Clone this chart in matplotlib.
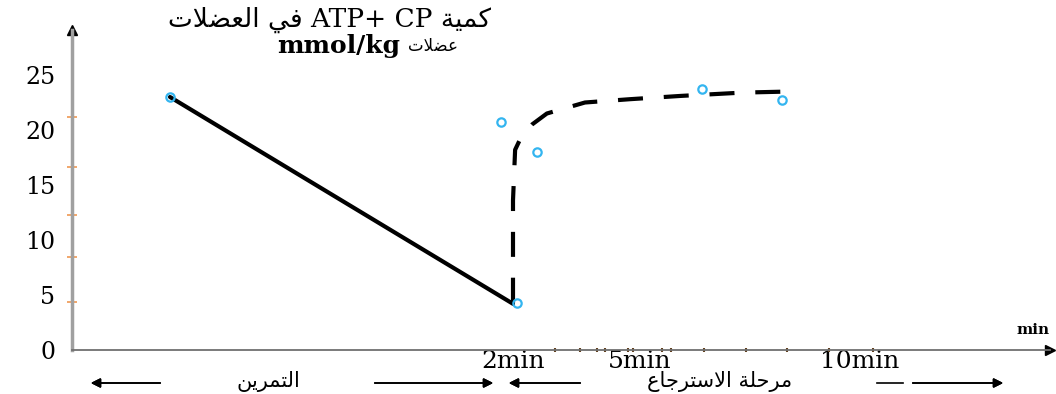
import matplotlib
matplotlib.use("Agg")
import matplotlib.pyplot as plt
import numpy as np

# --- data (time in minutes, ATP+CP in mmol/kg) ---
exercise_time = [0.0, 2.0]
exercise_value = [23.0, 4.2]

recovery_time = [2.0, 2.0, 2.05, 2.21, 2.45, 2.8, 3.7, 4.76, 5.93, 7.33, 8.42]
recovery_value = [4.3, 13.6, 18.2, 19.5, 20.5, 21.5, 22.5, 22.8, 23.1, 23.4, 23.5]

marker_time = [0.0, 1.93, 2.57, 2.1, 6.42, 8.23]
marker_value = [23.0, 20.7, 18.0, 4.3, 23.7, 22.7]

y_ticks = [0, 5, 10, 15, 20, 25]
x_ticks = [2, 5, 10]
x_tick_labels = ["2min", "5min", "10min"]

# small stray tick marks on both axes
x_minor = [2.99, 3.58, 3.98, 4.17, 4.72, 4.83, 5.5, 5.7, 6.45, 7.4, 8.35, 9.3, 10.3]
y_minor = [21.2, 16.6, 12.3, 8.5, 4.4]

# the time axis of the drawing is not linear: piecewise mapping time -> position
scale_time = [-0.57, 0.0, 2.0, 5.0, 10.0, 14.5]
scale_pos = [72, 170, 513, 640, 860, 1050]


def forward(t):
    return np.interp(t, scale_time, scale_pos)


def inverse(p):
    return np.interp(p, scale_pos, scale_time)


# --- minimal Arabic shaping (matplotlib has no complex text layout) ---
FORMS = {
    "ا": ("\uFE8D", "\uFE8E", None, None),
    "لا": ("\uFEFB", "\uFEFC", None, None),
    "ة": ("\uFE93", "\uFE94", None, None),
    "ر": ("\uFEAD", "\uFEAE", None, None),
    "ل": ("\uFEDD", "\uFEDE", "\uFEDF", "\uFEE0"),
    "ع": ("\uFEC9", "\uFECA", "\uFECB", "\uFECC"),
    "ض": ("\uFEBD", "\uFEBE", "\uFEBF", "\uFEC0"),
    "ت": ("\uFE95", "\uFE96", "\uFE97", "\uFE98"),
    "ك": ("\uFED9", "\uFEDA", "\uFEDB", "\uFEDC"),
    "م": ("\uFEE1", "\uFEE2", "\uFEE3", "\uFEE4"),
    "ي": ("\uFEF1", "\uFEF2", "\uFEF3", "\uFEF4"),
    "ف": ("\uFED1", "\uFED2", "\uFED3", "\uFED4"),
    "ن": ("\uFEE5", "\uFEE6", "\uFEE7", "\uFEE8"),
    "ح": ("\uFEA1", "\uFEA2", "\uFEA3", "\uFEA4"),
    "س": ("\uFEB1", "\uFEB2", "\uFEB3", "\uFEB4"),
    "ج": ("\uFE9D", "\uFE9E", "\uFE9F", "\uFEA0"),
}


def ar(word):
    tokens, i = [], 0
    while i < len(word):
        if word[i] == "ل" and i + 1 < len(word) and word[i + 1] == "ا":
            tokens.append("لا")
            i += 2
        else:
            tokens.append(word[i])
            i += 1
    out = []
    for k, tok in enumerate(tokens):
        iso, fin, ini, med = FORMS[tok]
        prev_joins = k > 0 and FORMS[tokens[k - 1]][2] is not None
        next_joins = ini is not None and k + 1 < len(tokens)
        if prev_joins and next_joins:
            out.append(med)
        elif prev_joins:
            out.append(fin)
        elif next_joins:
            out.append(ini)
        else:
            out.append(iso)
    return "".join(reversed(out))


SERIF = ["DejaVu Serif", "DejaVu Sans"]
ARAB = ["DejaVu Sans"]

W, H = 1056, 394
fig = plt.figure(figsize=(W / 100, H / 100), dpi=100)
ax = fig.add_axes([72 / W, 44 / H, (1050 - 72) / W, 320 / H])
ax.set_xscale("function", functions=(forward, inverse))
ax.set_xlim(-0.57, 14.5)
ax.set_ylim(0, 320 / 11)

ax.plot(exercise_time, exercise_value, color="black", lw=3, solid_capstyle="round")
ax.plot(recovery_time, recovery_value, color="black", lw=3, dashes=(6, 5))
ax.plot(marker_time, marker_value, ls="none", marker="o", ms=6, mfc="none",
        mec="#33b5f0", mew=1.6, clip_on=False)

for s in ["top", "right"]:
    ax.spines[s].set_visible(False)
ax.spines["left"].set_color("#a0a0a0")
ax.spines["left"].set_linewidth(2.5)
ax.spines["bottom"].set_color("#707070")
ax.spines["bottom"].set_linewidth(1.3)
ax.plot([0], [1], marker="^", color="black", ms=7, transform=ax.transAxes, clip_on=False)
ax.plot([1], [0], marker=">", color="black", ms=7, transform=ax.transAxes, clip_on=False)

ax.set_yticks(y_ticks)
ax.set_yticklabels([str(v) for v in y_ticks], family=SERIF, fontsize=17)
ax.set_xticks(x_ticks)
ax.set_xticklabels(x_tick_labels, family=SERIF, fontsize=18)
ax.tick_params(axis="y", which="major", length=0, pad=12)
ax.tick_params(axis="x", which="major", length=0, pad=0)
ax.set_yticks(y_minor, minor=True)
ax.set_xticks(x_minor, minor=True)
ax.tick_params(axis="y", which="minor", length=7, width=1.3, direction="inout",
               color="#f0a060")
ax.tick_params(axis="x", which="minor", length=3, width=1.5, direction="inout",
               color="#604020")

# titles
fig.text(330 / W, 1 - 20 / H, ar("العضلات") + " " + ar("في") + " ATP+ CP " + ar("كمية"),
         family=SERIF, fontsize=19, ha="center", va="center")
fig.text(400 / W, 1 - 46 / H, "mmol/kg", family=SERIF, fontsize=18, fontweight="bold",
         ha="right", va="center")
fig.text(408 / W, 1 - 46 / H, ar("عضلات"), family=ARAB, fontsize=12, ha="left", va="center")
fig.text(1050 / W, 1 - 330 / H, "min", family=SERIF, fontsize=11, fontweight="bold",
         ha="right", va="center")

# phase labels with arrows
fig.text(268 / W, 1.5 / H, ar("التمرين"), family=ARAB, fontsize=15, ha="center",
         va="bottom")
fig.text(720 / W, 1.5 / H, ar("الاسترجاع") + " " + ar("مرحلة"), family=ARAB,
         fontsize=15, ha="center", va="bottom")
arrow = dict(arrowstyle="-|>", color="black", lw=1.2, mutation_scale=14)
for x0, x1 in [(163, 88), (372, 496), (583, 506), (910, 1006)]:
    fig.add_artist(plt.annotate("", xy=(x1, H - 383), xytext=(x0, H - 383),
                                xycoords="figure pixels", textcoords="figure pixels",
                                arrowprops=arrow))
fig.add_artist(plt.Line2D([877 / W, 903 / W], [1 - 383 / H, 1 - 383 / H], color="black", lw=1.2))

fig.savefig("out.png", dpi=100)
